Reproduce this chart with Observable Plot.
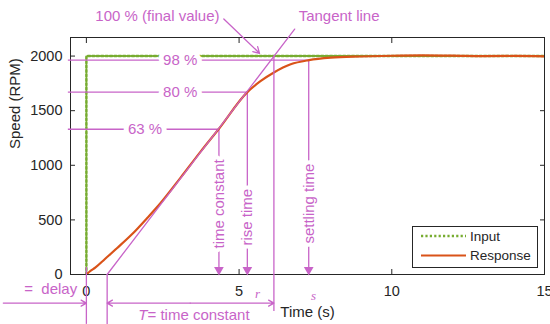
<!DOCTYPE html>
<html>
<head>
<meta charset="utf-8">
<script src="https://cdn.jsdelivr.net/npm/d3@7"></script>
<script src="https://cdn.jsdelivr.net/npm/@observablehq/plot@0.6"></script>
<style>
  html, body { margin: 0; padding: 0; background: white; overflow: hidden; }
  #wrap { position: relative; width: 550px; height: 324px; font-family: "Liberation Sans", Arial, sans-serif; }
  #legend { position: absolute; left: 412px; top: 226px; width: 124px; height: 40px; border: 1px solid #262626; background: white; }
</style>
</head>
<body>
<div id="wrap"></div>
<script>
// ---- data ----
const time  = [0, 0.1, 0.3, 0.6, 1.0, 1.5, 2.0, 2.43, 3.08, 3.74, 4.34, 5.27, 5.7, 6.14, 6.69, 7.29, 8.0, 9, 10, 11, 12, 13, 14, 15];
const speed = [0, 25, 65, 140, 240, 370, 520, 655, 885, 1125, 1335, 1670, 1770, 1850, 1925, 1963, 1985, 1996, 2003, 2006, 2004, 2000, 2001, 1998];
const inputTime  = [0, 0, 15];
const inputSpeed = [0, 2000, 2000];

const xTicks = [0, 5, 10, 15];
const yTicks = [0, 500, 1000, 1500, 2000];

// annotation anchors (data units), ordered: time constant, rise time, settling time
const levelNames  = ["63 %", "80 %", "98 %"];
const levelValues = [1330, 1670, 1963];
const levelLabelT = [1.92, 3.07, 3.07];
const levelStartT = -0.59;
const markerNames = ["time constant", "rise time", "settling time"];
const markerTimes = [4.34, 5.27, 7.28];
const markerTextY = [238, 265, 283];
const markerTipY  = 42;
const tangentT = [0.68, 6.82];
const tangentV = [0, 2247];
const finalLineT = [5.43, 12.4];
const finalValue = 2000;
const delayT = [-2.72, 0];
const timeConstT = [0.68, 6.14];
const belowArrowV = -262;
const bottomV = -457;

const levels = levelNames.map((name, i) => ({name, v: levelValues[i], lx: levelLabelT[i], end: markerTimes[i]}));
const markers = markerNames.map((name, i) => ({name, t: markerTimes[i], level: levelValues[i], ty: markerTextY[i]}));
const response = time.map((t, i) => ({t, v: speed[i]}));
const input = inputTime.map((t, i) => ({t, v: inputSpeed[i]}));

const MAG = "#C864C8";
const GREEN = "#77AC30";
const ORANGE = "#D95319";
const INK = "#262626";
const FONT = "Liberation Sans, Arial, sans-serif";
const fmt = d => String(d);

const plot = Plot.plot({
  width: 550,
  height: 324,
  marginLeft: 70,
  marginRight: 6,
  marginTop: 37,
  marginBottom: 50,
  style: {fontFamily: FONT, fontSize: "14.5px", color: INK, background: "white", overflow: "visible"},
  x: {domain: [-0.52, 15]},
  y: {domain: [0, 2170]},
  marks: [
    Plot.frame({stroke: INK, strokeWidth: 1}),
    // inward ticks on all four sides
    Plot.axisX({ticks: xTicks, anchor: "bottom", tickSize: 5, text: null, dy: -5, label: null}),
    Plot.axisX({ticks: xTicks, anchor: "top", tickSize: 5, text: null, dy: 5, label: null}),
    Plot.axisY({ticks: yTicks, anchor: "left", tickSize: 5, text: null, dx: 5, label: null}),
    Plot.axisY({ticks: yTicks, anchor: "right", tickSize: 5, text: null, dx: -5, label: null}),
    // tick labels
    Plot.axisX({ticks: xTicks, anchor: "bottom", tickSize: 0, tickPadding: 11, tickFormat: fmt, label: null}),
    Plot.axisY({ticks: yTicks, anchor: "left", tickSize: 0, tickPadding: 8, tickFormat: fmt, label: null}),
    // axis titles
    Plot.text(["Time (s)"], {frameAnchor: "bottom", dy: 37.5, lineAnchor: "middle", fontSize: 15, fill: INK}),
    Plot.text(["Speed (RPM)"], {frameAnchor: "left", dx: -55, dy: -7, rotate: -90, lineAnchor: "middle", fontSize: 15, fill: INK}),

    // 100% (final value) line
    Plot.ruleY([finalValue], {x1: finalLineT[0], x2: finalLineT[1], stroke: MAG, strokeWidth: 1.5}),
    // input
    Plot.line(input, {x: "t", y: "v", stroke: GREEN, strokeWidth: 2.5, strokeDasharray: "2.2,2.2", clip: true}),
    // level lines
    Plot.ruleY(levels, {y: "v", x1: levelStartT, x2: "end", stroke: MAG, strokeWidth: 1.3}),
    // marker verticals
    Plot.ruleX(markers, {x: "t", y1: "level", y2: markerTipY, stroke: MAG, strokeWidth: 1.3}),
    // response
    Plot.line(response, {x: "t", y: "v", stroke: ORANGE, strokeWidth: 2.2, curve: "monotone-x", clip: true}),
    // tangent line
    Plot.line(tangentT.map((t, i) => ({t, v: tangentV[i]})), {x: "t", y: "v", stroke: MAG, strokeWidth: 1.3}),
    // level labels with white background
    Plot.text(levels, {x: "lx", y: "v", text: "name", fill: MAG, stroke: "white", strokeWidth: 10, fontSize: 15, lineAnchor: "middle"}),
    // marker labels (rotated)
    Plot.text(markers, {x: "t", y: "ty", text: "name", rotate: -90, textAnchor: "start", lineAnchor: "middle", fill: MAG, stroke: "white", strokeWidth: 8, fontSize: 15}),
    Plot.dot(markers, {x: "t", y: markerTipY, symbol: "triangle", rotate: 180, r: 3.6, fill: MAG, stroke: "none"}),

    // top annotations
    Plot.text(["100 % (final value)"], {x: 4.36, y: 2361, textAnchor: "end", lineAnchor: "middle", fill: MAG, fontSize: 15}),
    Plot.arrow([{x1: 4.5, y1: 2340, x2: 5.67, y2: 2025}], {x1: "x1", y1: "y1", x2: "x2", y2: "y2", stroke: MAG, strokeWidth: 1.3, headLength: 8}),
    Plot.text(["Tangent line"], {x: 6.95, y: 2361, textAnchor: "start", lineAnchor: "middle", fill: MAG, fontSize: 15}),

    // below-axis annotations
    Plot.ruleX([0], {y1: 64, y2: bottomV, stroke: MAG, strokeWidth: 1.3}),
    Plot.ruleX([timeConstT[0]], {y1: 0, y2: bottomV, stroke: MAG, strokeWidth: 1.3}),
    Plot.ruleX([timeConstT[1]], {y1: finalValue, y2: -338, stroke: MAG, strokeWidth: 1.3}),
    Plot.arrow([{a: delayT[0], b: delayT[1]}], {x1: "a", x2: "b", y1: belowArrowV, y2: belowArrowV, stroke: MAG, strokeWidth: 1.3, headLength: 7}),
    Plot.arrow([{a: 3.4, b: timeConstT[0]}, {a: 3.4, b: timeConstT[1]}], {x1: "a", x2: "b", y1: belowArrowV, y2: belowArrowV, stroke: MAG, strokeWidth: 1.3, headLength: 7}),
    Plot.text(["=\u00a0\u00a0delay"], {x: -0.3, y: -134, textAnchor: "end", lineAnchor: "middle", fill: MAG, fontSize: 15}),
    Plot.text(["T"], {x: 2.0, y: -374, textAnchor: "end", lineAnchor: "middle", fill: MAG, fontSize: 15, fontStyle: "italic"}),
    Plot.text(["= time constant"], {x: 2.0, y: -374, textAnchor: "start", lineAnchor: "middle", fill: MAG, fontSize: 15}),
    Plot.text(["r"], {x: 5.6, y: -174, lineAnchor: "middle", fill: MAG, fontSize: 13, fontStyle: "italic", fontFamily: "Liberation Serif, serif"}),
    Plot.text(["s"], {x: 7.44, y: -192, lineAnchor: "middle", fill: MAG, fontSize: 13, fontStyle: "italic", fontFamily: "Liberation Serif, serif"})
  ]
});

const wrap = document.getElementById("wrap");
wrap.appendChild(plot);

const legend = document.createElement("div");
legend.id = "legend";
legend.innerHTML = `<svg width="124" height="40" style="display:block;font-family:${FONT}">
  <line x1="8" x2="53" y1="9" y2="9" stroke="${GREEN}" stroke-width="2.5" stroke-dasharray="2.2,2.2"/>
  <text x="57" y="9" dy="0.35em" font-size="13.5" fill="${INK}">Input</text>
  <line x1="8" x2="53" y1="28.5" y2="28.5" stroke="${ORANGE}" stroke-width="2.2"/>
  <text x="57" y="28.5" dy="0.35em" font-size="13.5" fill="${INK}">Response</text>
</svg>`;
wrap.appendChild(legend);
</script>
</body>
</html>
